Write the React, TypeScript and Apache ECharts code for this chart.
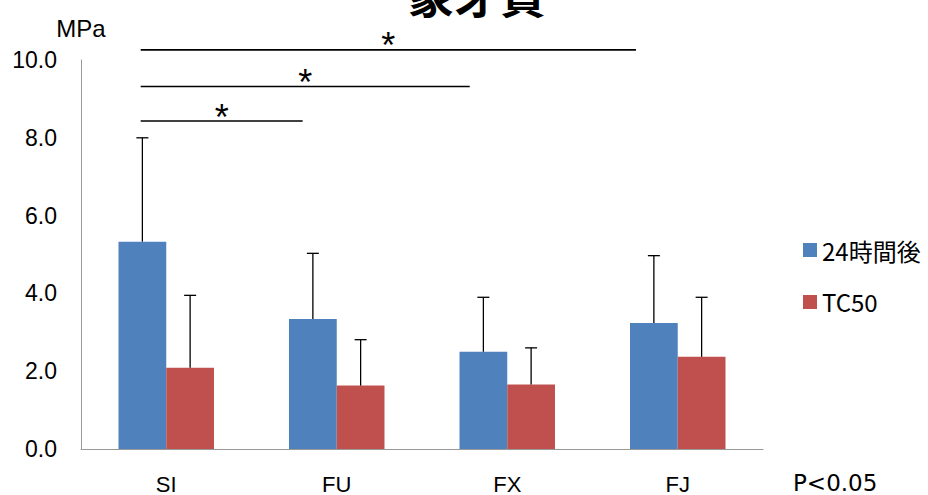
import React, { useEffect, useRef } from "react";
import * as echarts from "echarts";

const categories = ["SI", "FU", "FX", "FJ"];
const seriesNames = ["24時間後", "TC50"];
const mean24h = [5.33, 3.34, 2.5, 3.24];
const upper24h = [8.0, 5.03, 3.9, 4.97];
const meanTC50 = [2.09, 1.63, 1.66, 2.37];
const upperTC50 = [3.95, 2.81, 2.6, 3.9];
const yTicks = [0, 2, 4, 6, 8, 10];
// significance brackets, in category units: [start, end, height]
const sigStart = [-0.15, -0.15, -0.15];
const sigEnd = [0.8, 1.78, 2.755];
const sigHeight = [8.43, 9.32, 10.26];
const sigLabel = "*";
const pNote = "P<0.05";

const BLUE = "#4F81BD";
const RED = "#C0504D";
const GAP = 0.44;

export default function App() {
  const ref = useRef<HTMLDivElement>(null);
  useEffect(() => {
    const chart = echarts.init(ref.current!, undefined, { renderer: "svg" });
    const errRender = (side: number) => (params: any, api: any) => {
      const idx = api.value(0);
      const bw = api.size([1, 0])[0];
      const barW = (bw * (1 - GAP)) / 2;
      const p0 = api.coord([idx, api.value(1)]);
      const p1 = api.coord([idx, api.value(2)]);
      const x = p0[0] + (side * barW) / 2;
      return {
        type: "group",
        children: [
          { type: "line", shape: { x1: x, y1: p0[1], x2: x, y2: p1[1] }, style: { stroke: "#000", lineWidth: 1.3 } },
          { type: "line", shape: { x1: x - 6, y1: p1[1], x2: x + 6, y2: p1[1] }, style: { stroke: "#000", lineWidth: 1.3 } },
        ],
      };
    };
    const sigRender = (params: any, api: any) => {
      const bw = api.size([1, 0])[0];
      const base = api.coord([0, api.value(2)]);
      const x1 = base[0] + api.value(0) * bw;
      const x2 = base[0] + api.value(1) * bw;
      const y = base[1];
      return {
        type: "group",
        children: [
          { type: "line", shape: { x1, y1: y, x2, y2: y }, style: { stroke: "#000", lineWidth: 1.6 } },
          {
            type: "text",
            x: (x1 + x2) / 2,
            y: y - 4,
            style: { text: sigLabel, fontSize: 36, fontFamily: "Liberation Sans", fill: "#000", align: "center", verticalAlign: "middle" },
          },
        ],
      };
    };
    chart.setOption({
      animation: false,
      title: {
        text: "象牙質",
        left: 472,
        top: -35,
        textAlign: "center",
        textStyle: { fontSize: 46, fontWeight: "bold", fontFamily: "Noto Sans CJK JP", color: "#000" },
      },
      legend: {
        data: seriesNames,
        orient: "vertical",
        left: 798,
        top: 233,
        itemWidth: 14,
        itemHeight: 14,
        itemGap: 28,
        icon: "rect",
        textStyle: { fontSize: 24, fontFamily: "Noto Sans CJK JP", color: "#000" },
      },
      grid: { left: 81, right: 165, top: 60, bottom: 43 },
      xAxis: {
        type: "category",
        data: categories,
        axisLine: { lineStyle: { color: "#999" } },
        axisTick: { show: false },
        axisLabel: { fontSize: 22, fontFamily: "Liberation Sans Narrow, Liberation Sans", color: "#000", margin: 24 },
      },
      yAxis: {
        type: "value",
        min: 0,
        max: 10,
        interval: 2,
        name: "MPa",
        nameLocation: "end",
        nameGap: 20,
        nameTextStyle: { fontSize: 24, fontFamily: "Liberation Sans", color: "#000", align: "center", verticalAlign: "bottom" },
        axisLine: { show: true, lineStyle: { color: "#999" } },
        axisTick: { show: false },
        splitLine: { show: false },
        axisLabel: {
          fontSize: 23,
          fontFamily: "Liberation Sans",
          color: "#000",
          margin: 24,
          formatter: (v: number) => (yTicks.includes(v) ? v.toFixed(1) : ""),
        },
      },
      graphic: [
        {
          type: "text",
          left: 793,
          top: 471,
          style: { text: pNote, fontSize: 23, fontFamily: "DejaVu Sans", fill: "#000" },
        },
      ],
      series: [
        { name: seriesNames[0], type: "bar", data: mean24h, itemStyle: { color: BLUE }, barGap: "0%", barCategoryGap: GAP * 100 + "%" },
        { name: seriesNames[1], type: "bar", data: meanTC50, itemStyle: { color: RED }, barGap: "0%", barCategoryGap: GAP * 100 + "%" },
        {
          type: "custom",
          renderItem: errRender(-1),
          data: categories.map((_, i) => [i, mean24h[i], upper24h[i]]),
          encode: { x: 0, y: [1, 2] },
          clip: false,
          z: 5,
        },
        {
          type: "custom",
          renderItem: errRender(1),
          data: categories.map((_, i) => [i, meanTC50[i], upperTC50[i]]),
          encode: { x: 0, y: [1, 2] },
          clip: false,
          z: 5,
        },
        {
          type: "custom",
          renderItem: sigRender,
          data: sigStart.map((s, i) => [s, sigEnd[i], sigHeight[i]]),
          encode: { y: 2 },
          clip: false,
          z: 5,
        },
      ],
    });
    return () => chart.dispose();
  }, []);
  return <div ref={ref} style={{ width: 928, height: 495, position: "absolute", left: 0, top: 0 }} />;
}
